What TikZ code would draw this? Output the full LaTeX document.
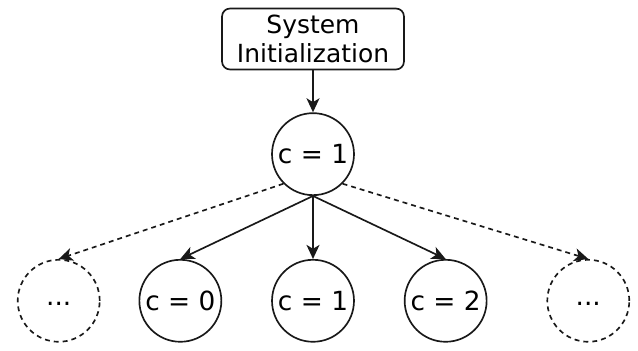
\documentclass[tikz,border=0pt]{standalone}
\usepackage{fontspec}
\setmainfont{DejaVu Sans}
\usepackage{tikz}
\usetikzlibrary{arrows.meta,positioning}
\tikzset{>={Stealth[length=8pt,width=7.4pt,inset=2.2pt]}}
\tikzset{state node/.style={circle,draw=black!90,line width=0.95pt,minimum size=1.64cm,inner sep=0pt,font=\fontsize{15}{17}\selectfont},
         dots node/.style={state node,dash pattern=on 2.8pt off 2.3pt,text height=0.73em,text depth=0.2em},
         init node/.style={rectangle,rounded corners=0.16cm,draw=black!90,line width=0.95pt,minimum width=3.64cm,minimum height=1.22cm,align=center,inner sep=0pt,font=\fontsize{14.2}{16.5}\selectfont},
            }

\begin{document}
\begin{tikzpicture}[x=0.02cm,y=-0.02cm]

    \useasboundingbox (0,0) rectangle (638,351);

    \node[init node] (init) at (313,39) {System\\Initialization};
    \node[state node] (top) [below = 0.84cm of init] {c = 1};
    \node[state node] (c1) [below = 1.26cm of top] {c = 1};
    \node[state node] (c0) [left = 0.98cm of c1] {c = 0};
    \node[state node] (c2) [right = 0.98cm of c1] {c = 2};
    \node[dots node] (dl) [left = 0.76cm of c0] {...};
    \node[dots node] (dr) [right = 1.18cm of c2] {...};

    \path[line width=0.95pt,black!90]
    (init) edge[->] (top)
    (top.south) edge[->] (c0.north)
    (top.south) edge[->] (c1.north)
    (top.south) edge[->] (c2.north);

    \path[line width=0.95pt,black!90,dash pattern=on 2.8pt off 2.3pt]
    (top.south west) edge[->] (dl.north)
    (top.south east) edge[->] (dr.north);

\end{tikzpicture}
\end{document}
